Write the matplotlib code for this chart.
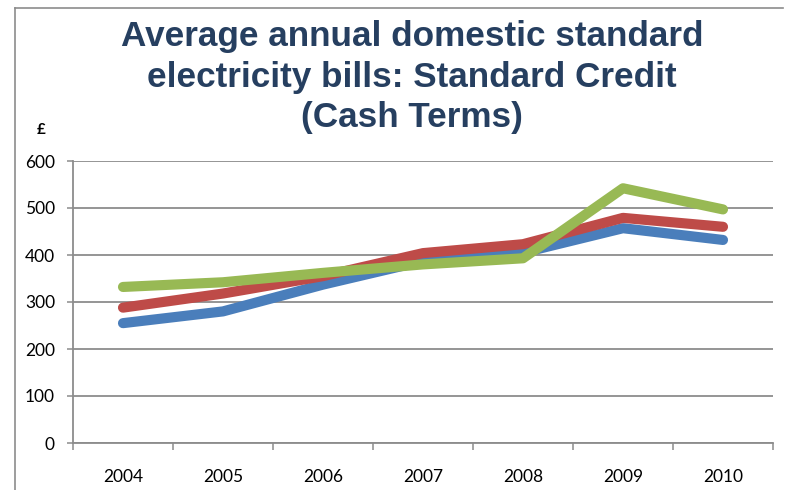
import matplotlib
matplotlib.use("Agg")
import matplotlib.pyplot as plt
from matplotlib.lines import Line2D
import numpy as np

years = ["2004", "2005", "2006", "2007", "2008", "2009", "2010"]
blue_vals = [255, 280, 337, 387, 405, 457, 432]
red_vals = [288, 318, 355, 404, 423, 479, 460]
green_vals = [332, 342, 362, 380, 393, 542, 497]
y_ticks = [0, 100, 200, 300, 400, 500, 600]
title_text = "Average annual domestic standard\nelectricity bills: Standard Credit\n(Cash Terms)"

W, H = 788, 490
fig = plt.figure(figsize=(W / 100, H / 100), dpi=100)
ax = fig.add_axes([73 / W, 1 - 443 / H, 700 / W, 282 / H])

x = np.arange(len(years))
for vals, col in [(blue_vals, "#4A7EBB"), (red_vals, "#BE4B48"), (green_vals, "#98B954")]:
    ax.plot(x, vals, color=col, lw=7.3, solid_capstyle="round", solid_joinstyle="round")

ax.set_xlim(-0.5, len(years) - 0.5)
ax.set_ylim(0, 600)
ax.set_yticks(y_ticks)
ax.set_xticks(x)
ax.set_xticklabels(years)
ax.set_xticks(np.arange(-0.5, len(years), 1.0), minor=True)

grid_col = "#8c8c8c"
ax.yaxis.grid(True, color=grid_col, lw=1.3)
ax.set_axisbelow(True)
for s in ["top", "right"]:
    ax.spines[s].set_visible(False)
for s in ["left", "bottom"]:
    ax.spines[s].set_color(grid_col)
    ax.spines[s].set_linewidth(1.3)

ax.tick_params(axis="y", length=4, width=1.1, color=grid_col, pad=9,
               labelsize=12.5, labelcolor="black")
ax.tick_params(axis="x", which="major", length=0, pad=19, labelsize=12.5, labelcolor="black")
ax.tick_params(axis="x", which="minor", length=5, width=1.1, color=grid_col)
for lab in ax.get_xticklabels() + ax.get_yticklabels():
    lab.set_fontfamily("Lato")

fig.text(412 / W, 1 - 77 / H, title_text, ha="center", va="center",
         fontsize=25.3, fontweight="bold", color="#263F60",
         family="Liberation Sans", linespacing=1.27)
fig.text(41 / W, 1 - 130 / H, "£", ha="center", va="center",
         fontsize=11, fontweight="bold", color="black", family="Lato")

# outer chart frame (left and top edges)
fig.add_artist(Line2D([15 / W, 15 / W], [0, 1 - 8 / H], transform=fig.transFigure,
                      color="#8c8c8c", lw=1.2))
fig.add_artist(Line2D([15 / W, 783 / W], [1 - 8 / H, 1 - 8 / H], transform=fig.transFigure,
                      color="#8c8c8c", lw=1.2))

fig.savefig("out.png", dpi=100, facecolor="white")
